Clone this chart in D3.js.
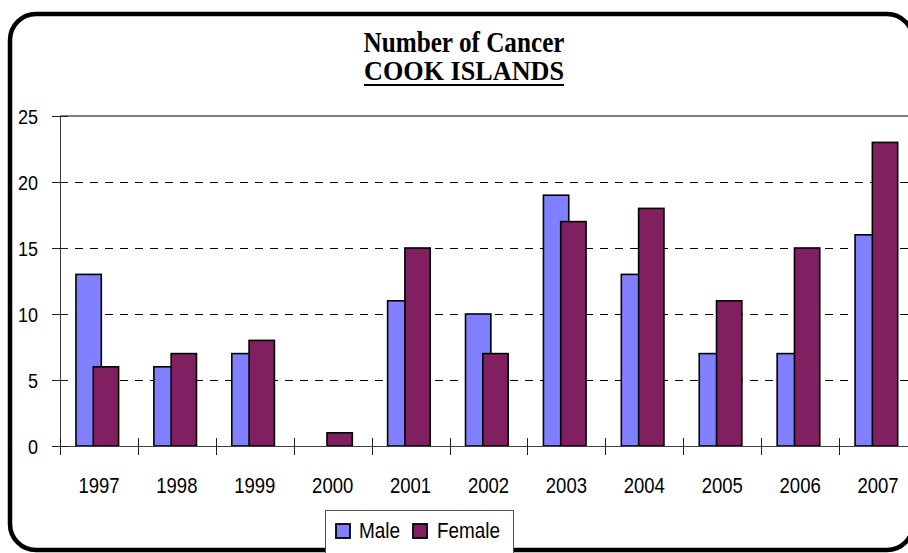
<!DOCTYPE html>
<html>
<head>
<meta charset="utf-8">
<script src="https://cdn.jsdelivr.net/npm/d3@7"></script>
<style>
  html, body { margin: 0; padding: 0; background: #fff; overflow: hidden; }
  svg { display: block; }
</style>
</head>
<body>
<svg id="chart" width="908" height="553"></svg>
<script>
// ---- data ----
const years = ["1997","1998","1999","2000","2001","2002","2003","2004","2005","2006","2007"];
const seriesNames = ["Male", "Female"];
const maleValues   = [13, 6, 7, 0, 11, 10, 19, 13, 7, 7, 16];
const femaleValues = [6, 7, 8, 1, 15, 7, 17, 18, 11, 15, 23];
const yTicks = [0, 5, 10, 15, 20, 25];
const titleLine1 = "Number of Cancer";
const titleLine2 = "COOK ISLANDS";

const colors = { Male: "#8080FF", Female: "#802060" };
const valuesBySeries = { Male: maleValues, Female: femaleValues };

const svg = d3.select("#chart");
const K = 1.17; // vertical stretch of text in reference

function stretchedText(g, x, y, str, opts) {
  const t = g.append("text")
    .attr("transform", `translate(${x},${y}) scale(1,${opts.k || K})`)
    .attr("x", 0).attr("y", 0)
    .attr("text-anchor", opts.anchor || "start")
    .attr("font-family", opts.family || "'Liberation Sans', Arial, sans-serif")
    .attr("font-size", opts.size)
    .attr("font-weight", opts.weight || "normal")
    .attr("fill", "#000")
    .text(str);
  if (opts.len) t.attr("textLength", opts.len).attr("lengthAdjust", opts.adjust || "spacingAndGlyphs");
  return t;
}

// outer rounded frame
svg.append("rect")
  .attr("x", 10).attr("y", 14)
  .attr("width", 903).attr("height", 536)
  .attr("rx", 26).attr("ry", 26)
  .attr("fill", "#fff")
  .attr("stroke", "#000").attr("stroke-width", 4.5);

// plot geometry
const plotLeft = 60, plotRight = 917, plotTop = 116, plotBottom = 446;

const x0 = d3.scaleBand().domain(years).range([plotLeft, plotRight]).paddingInner(0).paddingOuter(0);
const bw = x0.bandwidth();
const barW = 0.325 * bw;
const x1 = d3.scaleBand().domain(seriesNames)
  .range([0.205 * bw, 0.205 * bw + 2 * 0.222 * bw]).paddingInner(0).paddingOuter(0);
const y = d3.scaleLinear().domain([0, 25]).range([plotBottom, plotTop]);
const crisp = v => Math.round(v) + 0.5;

// gridlines
const grid = svg.append("g");
grid.selectAll("line.grid")
  .data(yTicks.filter(v => v > 0 && v < 25))
  .join("line")
  .attr("x1", plotLeft).attr("x2", plotRight)
  .attr("y1", d => crisp(y(d))).attr("y2", d => crisp(y(d)))
  .attr("stroke", "#000").attr("stroke-width", 1)
  .attr("stroke-dasharray", "8,7");
grid.append("line")
  .attr("x1", plotLeft).attr("x2", plotRight)
  .attr("y1", y(25)).attr("y2", y(25))
  .attr("stroke", "#808080").attr("stroke-width", 2);

// bars
const groups = svg.append("g").selectAll("g")
  .data(years)
  .join("g")
  .attr("transform", d => `translate(${x0(d)},0)`);

seriesNames.forEach(s => {
  groups.append("rect")
    .attr("x", x1(s))
    .attr("width", barW)
    .attr("y", (d, i) => y(valuesBySeries[s][i]))
    .attr("height", (d, i) => y(0) - y(valuesBySeries[s][i]))
    .attr("fill", colors[s])
    .attr("stroke", "#000").attr("stroke-width", 1.6)
    .attr("display", (d, i) => valuesBySeries[s][i] > 0 ? null : "none");
});

// axes lines
svg.append("line")
  .attr("x1", crisp(plotLeft)).attr("x2", crisp(plotLeft))
  .attr("y1", plotTop).attr("y2", plotBottom + 8)
  .attr("stroke", "#404040").attr("stroke-width", 1);
svg.append("line")
  .attr("x1", plotLeft - 8).attr("x2", plotRight)
  .attr("y1", crisp(plotBottom)).attr("y2", crisp(plotBottom))
  .attr("stroke", "#404040").attr("stroke-width", 1);

// y ticks + labels
const yAxisG = svg.append("g");
yTicks.forEach(v => {
  yAxisG.append("line")
    .attr("x1", plotLeft - 8).attr("x2", plotLeft + 8)
    .attr("y1", crisp(y(v))).attr("y2", crisp(y(v)))
    .attr("stroke", "#202020").attr("stroke-width", 1);
  stretchedText(yAxisG, 38, y(v) + 7.5, String(v), { size: 18, anchor: "end" });
});

// x ticks + labels
const xAxisG = svg.append("g");
years.forEach(yr => {
  xAxisG.append("line")
    .attr("x1", crisp(x0(yr))).attr("x2", crisp(x0(yr)))
    .attr("y1", plotBottom - 8).attr("y2", plotBottom + 9)
    .attr("stroke", "#202020").attr("stroke-width", 1);
  stretchedText(xAxisG, x0(yr) + bw / 2, 493, yr, { size: 18.5, anchor: "middle" });
});

// title
const tg = svg.append("g");
stretchedText(tg, 464, 52, titleLine1, {
  size: 25, weight: "bold", anchor: "middle", k: 1.15,
  family: "'Liberation Serif', 'Times New Roman', serif", len: 201
});
stretchedText(tg, 464, 80, titleLine2, {
  size: 24, weight: "bold", anchor: "middle", k: 1.12,
  family: "'Liberation Serif', 'Times New Roman', serif", len: 200
});
tg.append("line")
  .attr("x1", 364).attr("x2", 564)
  .attr("y1", 85).attr("y2", 85)
  .attr("stroke", "#000").attr("stroke-width", 2);

// legend
const lg = svg.append("g");
lg.append("rect")
  .attr("x", 325.5).attr("y", 510.5)
  .attr("width", 188).attr("height", 60)
  .attr("fill", "#fff")
  .attr("stroke", "#505050").attr("stroke-width", 1);
const legendItems = [
  { name: "Male", sx: 336, tx: 359, len: 41 },
  { name: "Female", sx: 413, tx: 437, len: 63 }
];
legendItems.forEach(it => {
  lg.append("rect")
    .attr("x", it.sx).attr("y", 524)
    .attr("width", 14).attr("height", 14)
    .attr("fill", colors[it.name])
    .attr("stroke", "#000").attr("stroke-width", 1.8);
  stretchedText(lg, it.tx, 538, it.name, { size: 19, len: it.len, k: 1.2 });
});
</script>
</body>
</html>
